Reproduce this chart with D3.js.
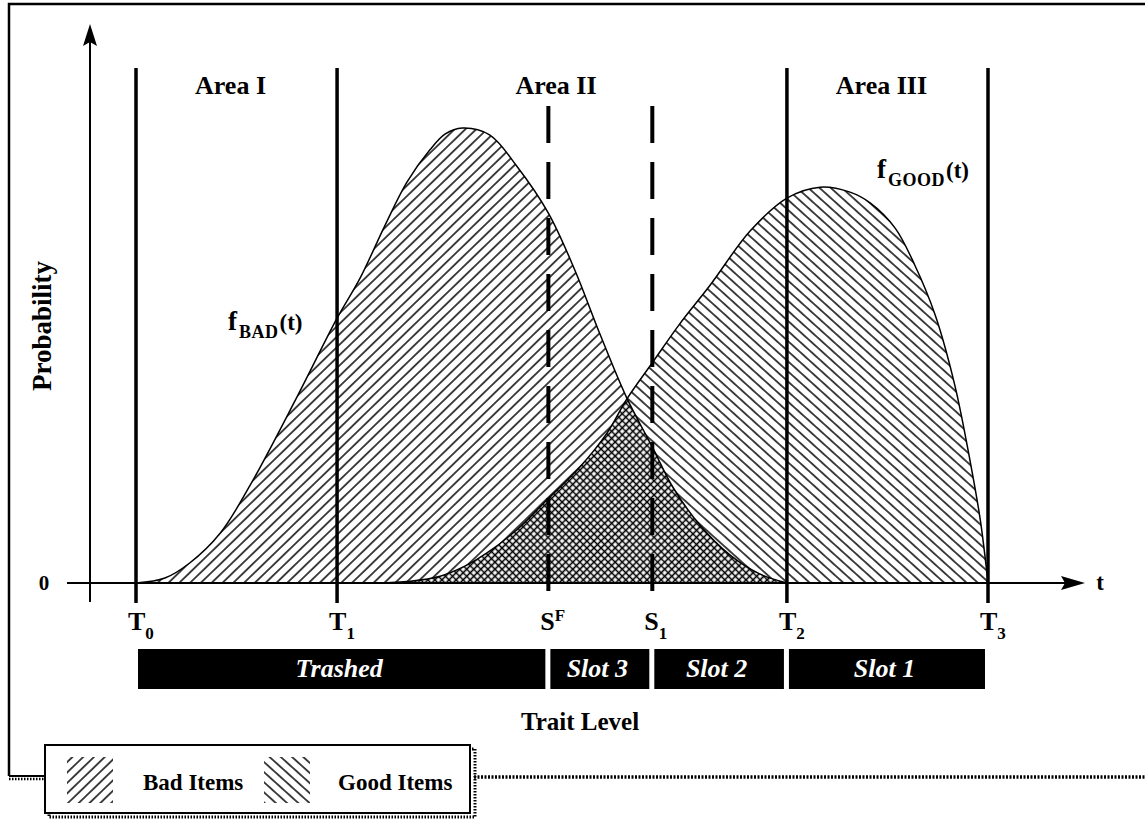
<!DOCTYPE html>
<html>
<head>
<meta charset="utf-8">
<script src="https://cdn.jsdelivr.net/npm/d3@7"></script>
<style>
  body { margin: 0; background: #fff; }
  svg text { font-family: "Liberation Serif", "Times New Roman", serif; font-weight: bold; fill: #000; }
</style>
</head>
<body>
<div id="app"></div>
<script>
// trait level t (T0 = 0, T3 = 100) and probability (bad peak = 1)
const badT = [0, 3.4, 6.3, 9.9, 13.4, 18.9, 23.6, 26.3, 29.2, 31.8, 34.5, 36.3, 38.3, 41.5, 44.7, 48.4, 51.5, 54.5, 57.6, 60.6, 63.0, 66.2, 69.7, 73.2, 76.4]
const badP = [0, 0.011, 0.044, 0.11, 0.215, 0.409, 0.582, 0.670, 0.785, 0.881, 0.952, 0.987, 1.0, 0.985, 0.916, 0.813, 0.688, 0.545, 0.407, 0.299, 0.211, 0.127, 0.062, 0.02, 0]
const goodT = [28.1, 32.2, 35.7, 38.6, 41.2, 44.7, 48.2, 52.1, 55.3, 57.6, 60.6, 63.8, 67.4, 72.1, 76.4, 80.3, 83.8, 86.2, 89.1, 91.4, 93.8, 96.1, 97.9, 99.1, 100]
const goodP = [0, 0.004, 0.015, 0.037, 0.066, 0.117, 0.182, 0.255, 0.330, 0.404, 0.484, 0.569, 0.655, 0.774, 0.846, 0.870, 0.859, 0.835, 0.780, 0.699, 0.589, 0.435, 0.268, 0.138, 0]

const markerBase = ['T', 'T', 'S', 'S', 'T', 'T']
const markerIdx = ['0', '1', 'F', '1', '2', '3']
const markerSuper = [false, false, true, false, false, false]
const markerT = [0, 23.6, 48.4, 60.6, 76.4, 100]
const markerDashed = [false, false, true, true, false, false]

const areaNames = ['Area I', 'Area II', 'Area III']
const areaFrom = [0, 1, 4]
const areaTo = [1, 4, 5]

const slotNames = ['Trashed', 'Slot 3', 'Slot 2', 'Slot 1']
const slotFrom = [0, 2, 3, 4]
const slotTo = [2, 3, 4, 5]

const legendNames = ['Bad Items', 'Good Items']

const w = 1145
const h = 819

const svg = d3.select('#app')
  .append('svg')
  .attr('width', w)
  .attr('height', h)

const x = d3.scaleLinear().domain([0, 100]).range([136, 988])
const y = d3.scaleLinear().domain([0, 1]).range([583, 128])

const defs = svg.append('defs')

function hatch (id, angle, gap) {
  const p = defs.append('pattern')
    .attr('id', id)
    .attr('patternUnits', 'userSpaceOnUse')
    .attr('width', 10)
    .attr('height', gap)
    .attr('patternTransform', 'rotate(' + angle + ')')
  p.append('rect').attr('width', 10).attr('height', gap).attr('fill', '#fff')
  p.append('line')
    .attr('x1', 0).attr('x2', 10)
    .attr('y1', gap / 2).attr('y2', gap / 2)
    .attr('stroke', '#000')
    .attr('stroke-width', 1.45)
}
hatch('bad', -44, 7.5)
hatch('good', 42, 7.5)

const cross = defs.append('pattern')
  .attr('id', 'cross')
  .attr('patternUnits', 'userSpaceOnUse')
  .attr('width', 5)
  .attr('height', 5)
  .attr('patternTransform', 'rotate(45)')
cross.append('rect').attr('width', 5).attr('height', 5).attr('fill', '#fff')
cross.append('path').attr('d', 'M0,2.5H5M2.5,0V5').attr('stroke', '#000').attr('stroke-width', 1.6)

const badData = badT.map((t, i) => [t, badP[i]])
const goodData = goodT.map((t, i) => [t, goodP[i]])

const curve = d3.curveCatmullRom.alpha(0.5)
const area = d3.area()
  .x(d => x(d[0]))
  .y0(y(0))
  .y1(d => y(d[1]))
  .curve(curve)
const line = d3.line()
  .x(d => x(d[0]))
  .y(d => y(d[1]))
  .curve(curve)

defs.append('clipPath').attr('id', 'badClip')
  .append('path').attr('d', area(badData))
defs.append('clipPath').attr('id', 'plotClip')
  .append('rect').attr('x', 0).attr('y', 0).attr('width', w).attr('height', y(0))

// frame
svg.append('path')
  .attr('d', 'M9,776V4H1145')
  .attr('fill', 'none')
  .attr('stroke', '#000')
  .attr('stroke-width', 2.5)
svg.append('line')
  .attr('x1', 9).attr('x2', 46).attr('y1', 776).attr('y2', 776)
  .attr('stroke', '#000').attr('stroke-width', 2)
svg.append('line')
  .attr('x1', 9).attr('x2', 46).attr('y1', 779).attr('y2', 779)
  .attr('stroke', '#000').attr('stroke-width', 2.5)
  .attr('stroke-dasharray', '1.5,1.5')
svg.append('line')
  .attr('x1', 474).attr('x2', 1145).attr('y1', 777).attr('y2', 777)
  .attr('stroke', '#000').attr('stroke-width', 3.5)
  .attr('stroke-dasharray', '2,1.5')

// distributions
const plot = svg.append('g').attr('clip-path', 'url(#plotClip)')
plot.append('path').attr('d', area(badData)).attr('fill', 'url(#bad)')
plot.append('path').attr('d', area(goodData)).attr('fill', 'url(#good)')
plot.append('path').attr('d', area(goodData)).attr('fill', 'url(#cross)').attr('clip-path', 'url(#badClip)')
plot.append('path').attr('d', line(badData)).attr('fill', 'none').attr('stroke', '#000').attr('stroke-width', 1.5)
plot.append('path').attr('d', line(goodData)).attr('fill', 'none').attr('stroke', '#000').attr('stroke-width', 1.5)

// threshold lines
svg.append('g')
  .selectAll('line')
  .data(markerT)
  .enter()
  .append('line')
  .attr('x1', d => x(d)).attr('x2', d => x(d))
  .attr('y1', (d, i) => markerDashed[i] ? 106 : 68)
  .attr('y2', (d, i) => markerDashed[i] ? 600 : 603)
  .attr('stroke', '#000')
  .attr('stroke-width', (d, i) => markerDashed[i] ? 4 : 3.5)
  .attr('stroke-dasharray', (d, i) => markerDashed[i] ? '37,19' : null)

// axes
svg.append('line')
  .attr('x1', 90).attr('x2', 90).attr('y1', 602).attr('y2', 40)
  .attr('stroke', '#000').attr('stroke-width', 2)
svg.append('path').attr('d', 'M90,24L83,46L90,42L97,46Z')
svg.append('line')
  .attr('x1', 67).attr('x2', 1070).attr('y1', y(0)).attr('y2', y(0))
  .attr('stroke', '#000').attr('stroke-width', 2)
svg.append('path').attr('d', 'M1085,583L1061,576L1065,583L1061,590Z')

svg.append('text').attr('x', 44).attr('y', 590).attr('text-anchor', 'middle').style('font-size', '21px').text('0')
svg.append('text').attr('x', 1100).attr('y', 590).attr('text-anchor', 'middle').style('font-size', '23px').text('t')
svg.append('text')
  .attr('transform', 'translate(51,326) rotate(-90)')
  .attr('text-anchor', 'middle')
  .style('font-size', '27px')
  .text('Probability')
svg.append('text').attr('x', 580).attr('y', 730).attr('text-anchor', 'middle').style('font-size', '25px').text('Trait Level')

// area titles
svg.append('g')
  .selectAll('text')
  .data(areaNames)
  .enter()
  .append('text')
  .attr('x', (d, i) => (x(markerT[areaFrom[i]]) + x(markerT[areaTo[i]])) / 2 - 6)
  .attr('y', 94)
  .attr('text-anchor', 'middle')
  .style('font-size', '26px')
  .text(d => d)

// threshold labels
const ml = svg.append('g')
  .selectAll('text')
  .data(markerT)
  .enter()
  .append('text')
  .attr('x', d => x(d) - 8)
  .attr('y', 630)
  .style('font-size', '26px')
ml.append('tspan').text((d, i) => markerBase[i])
ml.append('tspan')
  .attr('dy', (d, i) => markerSuper[i] ? -9 : 9)
  .style('font-size', '17px')
  .text((d, i) => markerIdx[i])

// slots
const slots = svg.append('g')
  .selectAll('g')
  .data(slotNames)
  .enter()
  .append('g')
slots.append('rect')
  .attr('x', (d, i) => x(markerT[slotFrom[i]]) + 2)
  .attr('width', (d, i) => x(markerT[slotTo[i]]) - x(markerT[slotFrom[i]]) - 5)
  .attr('y', 649)
  .attr('height', 40)
  .attr('fill', '#000')
slots.append('text')
  .attr('x', (d, i) => (x(markerT[slotFrom[i]]) + x(markerT[slotTo[i]])) / 2 - 3)
  .attr('y', 677)
  .attr('text-anchor', 'middle')
  .style('font-size', '26px')
  .style('font-style', 'italic')
  .style('fill', '#fff')
  .text(d => d)

// curve labels
function fLabel (px, py, sub) {
  const t = svg.append('text').attr('x', px).attr('y', py).style('font-size', '27px')
  t.append('tspan').text('f')
  t.append('tspan').attr('dy', 8).attr('dx', 2).style('font-size', '18px').style('letter-spacing', '0.5px').text(sub)
  t.append('tspan').attr('dy', -8).attr('dx', 1).style('font-size', '23px').text('(t)')
}
fLabel(228, 330, 'BAD')
fLabel(877, 178, 'GOOD')

// legend
svg.append('rect').attr('x', 49).attr('y', 749).attr('width', 426).attr('height', 68)
  .attr('fill', 'none').attr('stroke', '#000').attr('stroke-width', 3).attr('stroke-dasharray', '1.5,1.5')
svg.append('rect').attr('x', 45).attr('y', 745).attr('width', 425).attr('height', 68)
  .attr('fill', '#fff').attr('stroke', '#000').attr('stroke-width', 2)
const leg = svg.append('g')
  .selectAll('g')
  .data(legendNames)
  .enter()
  .append('g')
  .attr('transform', (d, i) => 'translate(' + (67 + i * 197) + ',757)')
leg.append('rect')
  .attr('width', 46)
  .attr('height', 46)
  .attr('fill', (d, i) => i === 0 ? 'url(#bad)' : 'url(#good)')
leg.append('text')
  .attr('x', (d, i) => i === 0 ? 76 : 74)
  .attr('y', 33)
  .style('font-size', '23px')
  .text(d => d)
</script>
</body>
</html>
